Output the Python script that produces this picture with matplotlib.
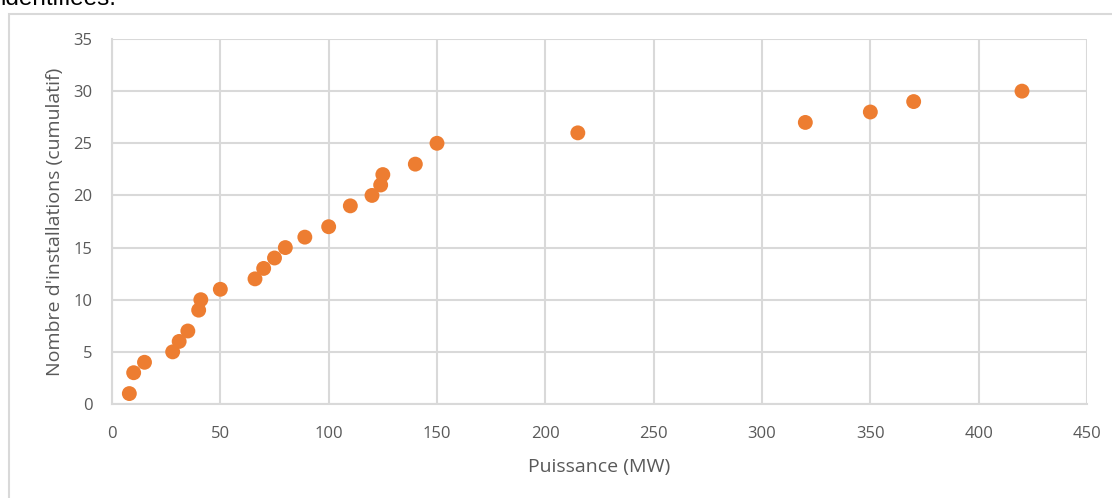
import matplotlib.pyplot as plt
from matplotlib.patches import Rectangle

# puissance des installations (MW) et nombre cumulé
puissance = [8, 10, 15, 28, 31, 35, 40, 41, 50, 66, 70, 75, 80, 89,
             100, 110, 120, 124, 125, 140, 150, 215, 320, 350, 370, 420]
cumul = [1, 3, 4, 5, 6, 7, 9, 10, 11, 12, 13, 14, 15, 16,
         17, 19, 20, 21, 22, 23, 25, 26, 27, 28, 29, 30]

x_ticks = list(range(0, 451, 50))
y_ticks = list(range(0, 36, 5))

plt.rcParams['font.family'] = ['Open Sans', 'DejaVu Sans']

W, H = 1112, 498
fig = plt.figure(figsize=(W / 100, H / 100), dpi=100)
ax = fig.add_axes([112 / W, 1 - 404 / H, 975 / W, 365 / H])

# cadre du graphique et fin de la phrase au-dessus
fig.patches.append(Rectangle((9 / W, -0.1), 1.2, 1 - 14 / H + 0.1,
                             transform=fig.transFigure, fill=False,
                             edgecolor='#d9d9d9', linewidth=1.5))
fig.text(0.0, 1 - 5 / H, "identifiées.", fontsize=17.5, color='#000000',
         ha='left', va='baseline', family='Liberation Sans')

ax.scatter(puissance, cumul, s=115, color='#ed7d31', zorder=3,
           edgecolors='none')

ax.set_xlim(0, 450)
ax.set_ylim(0, 35)
ax.set_xticks(x_ticks)
ax.set_yticks(y_ticks)
ax.grid(True, color='#d9d9d9', linewidth=1.5)
ax.set_axisbelow(True)
for s in ['top', 'right']:
    ax.spines[s].set_visible(False)
for s in ['left', 'bottom']:
    ax.spines[s].set_color('#d9d9d9')
    ax.spines[s].set_linewidth(1.5)
ax.tick_params(length=0, labelsize=12, labelcolor='#595959', pad=14)
ax.tick_params(axis='x', pad=16)

ax.set_xlabel("Puissance (MW)", fontsize=14, color='#595959', labelpad=11)
ax.set_ylabel("Nombre d'installations (cumulatif)", fontsize=14,
              color='#595959', labelpad=7)

fig.savefig("out.png", dpi=100)
